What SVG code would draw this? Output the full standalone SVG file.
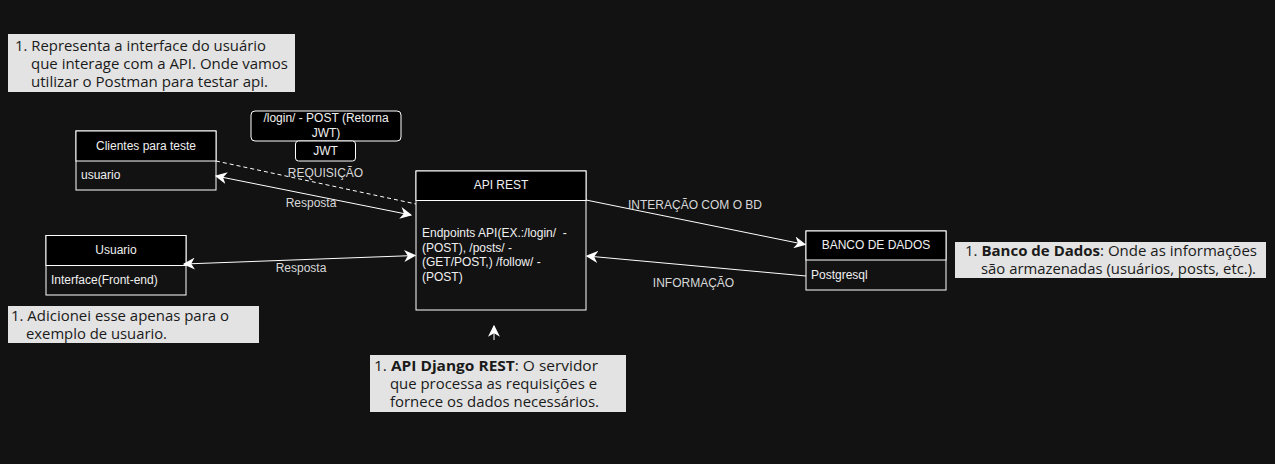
<svg xmlns="http://www.w3.org/2000/svg" width="1275" height="464" viewBox="0 0 1275 464">
<style>
.node{fill:#121212;stroke:#ffffff;stroke-width:1}
.hdr{fill:#000000;stroke:#ffffff;stroke-width:1}
.t{font-family:"Liberation Sans",Arial,sans-serif;font-size:12px;fill:#f0f0f0;white-space:pre}
.c{text-anchor:middle}
.lbl{font-family:"Liberation Sans",Arial,sans-serif;font-size:12px;fill:#d8d8d8;text-anchor:middle}
.edge{stroke:#ffffff;stroke-width:1;fill:none}
.note{fill:#e3e3e3;stroke:none}
.nt{font-family:"Open Sans","Noto Sans",sans-serif;font-size:15px;fill:#1a1a1a}
.rb{fill:#000000;stroke:#ffffff;stroke-width:1}
</style>
<defs>
<marker id="arr" markerUnits="userSpaceOnUse" markerWidth="12" markerHeight="12" refX="9" refY="5" orient="auto-start-reverse" viewBox="0 0 10 10">
<path d="M0,0 L10,5 L0,10 L3,5 z" fill="#ffffff"/>
</marker>
</defs>
<rect width="1275" height="464" fill="#121212"/>

<g id="note-clientes">
<rect class="note" x="8" y="34" width="287" height="58"/>
<text class="nt" x="15" y="51" textLength="251" lengthAdjust="spacingAndGlyphs">1. Representa a interface do usuário</text>
<text class="nt" x="31" y="69" textLength="257" lengthAdjust="spacingAndGlyphs">que interage com a API. Onde vamos</text>
<text class="nt" x="31" y="87" textLength="237" lengthAdjust="spacingAndGlyphs">utilizar o Postman para testar api.</text>
</g>

<g id="login-label">
<rect class="rb" x="251" y="111" width="150" height="30" rx="4"/>
<text class="t c" x="326" y="122">/login/ - POST (Retorna</text>
<text class="t c" x="326" y="137">JWT)</text>
</g>
<g id="jwt-label">
<rect class="rb" x="295.5" y="141" width="60" height="20" rx="3"/>
<text class="t c" x="325.5" y="155">JWT</text>
</g>

<g id="clientes">
<rect class="node" x="76" y="131" width="140" height="59"/>
<rect class="hdr" x="76" y="131" width="140" height="30"/>
<text class="t c" x="146" y="150">Clientes para teste</text>
<text class="t" x="81" y="179">usuario</text>
</g>

<g id="usuario">
<rect class="node" x="46" y="235.5" width="140" height="59.5"/>
<rect class="hdr" x="46" y="235.5" width="140" height="30"/>
<text class="t c" x="116" y="254">Usuario</text>
<text class="t" x="51" y="284">Interface(Front-end)</text>
</g>

<g id="api-rest">
<rect class="node" x="416" y="171" width="170" height="139"/>
<rect class="hdr" x="416" y="171" width="170" height="29.5"/>
<text class="t c" x="501" y="189">API REST</text>
<text class="t" x="422" y="237" xml:space="preserve">Endpoints API(EX.:/login/  -</text>
<text class="t" x="422" y="252">(POST), /posts/ -</text>
<text class="t" x="422" y="266">(GET/POST,) /follow/ -</text>
<text class="t" x="422" y="281">(POST)</text>
</g>

<g id="banco">
<rect class="node" x="806" y="231" width="140" height="59"/>
<rect class="hdr" x="806" y="231" width="140" height="29"/>
<text class="t c" x="876" y="249">BANCO DE DADOS</text>
<text class="t" x="811" y="279">Postgresql</text>
</g>

<g id="connectors">
<path class="edge" d="M216,161 L416,204" stroke-dasharray="4 3"/>
<path class="edge" d="M216,176 L411,215" marker-start="url(#arr)" marker-end="url(#arr)"/>
<path class="edge" d="M184,264 L415,255.5" marker-start="url(#arr)" marker-end="url(#arr)"/>
<path class="edge" d="M586,200 L805,244.5" marker-end="url(#arr)"/>
<path class="edge" d="M806,276 L587,256" marker-end="url(#arr)"/>
<path class="edge" d="M494,340 L494,326" marker-end="url(#arr)"/>
<text class="lbl" x="325.5" y="177">REQUISIÇÃO</text>
<text class="lbl" x="311" y="207">Resposta</text>
<text class="lbl" x="301" y="272">Resposta</text>
<text class="lbl" x="695" y="209">INTERAÇÃO COM O BD</text>
<text class="lbl" x="693.5" y="287">INFORMAÇÃO</text>
</g>

<g id="note-banco">
<rect class="note" x="955" y="242" width="311" height="36"/>
<text class="nt" x="965" y="256" textLength="292" lengthAdjust="spacingAndGlyphs">1. <tspan font-weight="bold">Banco de Dados</tspan>: Onde as informações</text>
<text class="nt" x="981" y="274" textLength="275" lengthAdjust="spacingAndGlyphs">são armazenadas (usuários, posts, etc.).</text>
</g>

<g id="note-usuario">
<rect class="note" x="8" y="306" width="251" height="37"/>
<text class="nt" x="11" y="321" textLength="218" lengthAdjust="spacingAndGlyphs">1. Adicionei esse apenas para o</text>
<text class="nt" x="26" y="339" textLength="141" lengthAdjust="spacingAndGlyphs">exemplo de usuario.</text>
</g>

<g id="note-api">
<rect class="note" x="370" y="355" width="256" height="57"/>
<text class="nt" x="374" y="371" textLength="224" lengthAdjust="spacingAndGlyphs">1. <tspan font-weight="bold">API Django REST</tspan>: O servidor</text>
<text class="nt" x="390" y="389" textLength="207" lengthAdjust="spacingAndGlyphs">que processa as requisições e</text>
<text class="nt" x="390" y="407" textLength="209" lengthAdjust="spacingAndGlyphs">fornece os dados necessários.</text>
</g>
</svg>
